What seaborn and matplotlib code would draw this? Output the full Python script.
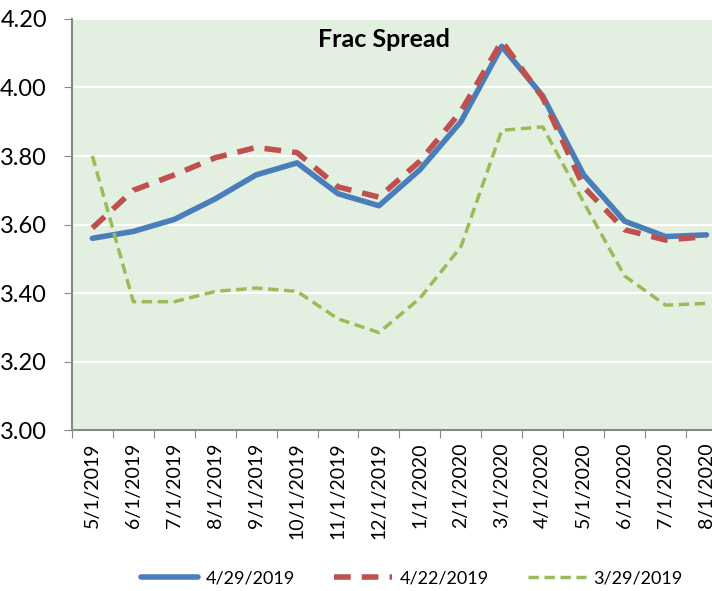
import pandas as pd
import matplotlib.pyplot as plt
import seaborn as sns

# contract months on the x axis
months = ['5/1/2019', '6/1/2019', '7/1/2019', '8/1/2019', '9/1/2019', '10/1/2019',
          '11/1/2019', '12/1/2019', '1/1/2020', '2/1/2020', '3/1/2020', '4/1/2020',
          '5/1/2020', '6/1/2020', '7/1/2020', '8/1/2020']

# forward curves, one per snapshot date
curve_0429 = [3.56, 3.58, 3.615, 3.675, 3.745, 3.78, 3.69, 3.655,
              3.76, 3.90, 4.12, 3.975, 3.745, 3.61, 3.565, 3.57]
curve_0422 = [3.59, 3.70, 3.745, 3.795, 3.825, 3.81, 3.71, 3.68,
              3.785, 3.93, 4.135, 3.97, 3.71, 3.585, 3.555, 3.565]
curve_0329 = [3.80, 3.375, 3.375, 3.405, 3.415, 3.405, 3.325, 3.285,
              3.385, 3.535, 3.875, 3.885, 3.665, 3.45, 3.365, 3.37]

series_names = ['4/29/2019', '4/22/2019', '3/29/2019']

df = pd.DataFrame({'month': months, 'pos': range(len(months)),
                   series_names[0]: curve_0429,
                   series_names[1]: curve_0422,
                   series_names[2]: curve_0329})
long_df = df.melt(id_vars=['month', 'pos'], var_name='curve', value_name='spread')

sns.set_style('white')
plt.rcParams['font.family'] = ['Lato', 'DejaVu Sans']
plt.rcParams['text.color'] = 'black'
plt.rcParams['xtick.color'] = 'black'
plt.rcParams['ytick.color'] = 'black'

fig = plt.figure(figsize=(7.12, 5.91), dpi=100)
ax = fig.add_axes([0.101, 0.272, 0.92, 0.696])
ax.set_facecolor('#e3f0e1')

palette = {'4/29/2019': '#4a7ebb', '4/22/2019': '#c0504d', '3/29/2019': '#9bbb59'}
styles = {'4/29/2019': ('-', 4.0), '4/22/2019': ((0, (3, 2)), 4.0), '3/29/2019': ((0, (3, 1.6)), 2.5)}

for name in series_names:
    sub = long_df[long_df['curve'] == name]
    ls, lw = styles[name]
    sns.lineplot(data=sub, x='pos', y='spread', ax=ax, color=palette[name],
                 linestyle=ls, linewidth=lw, label=name, legend=False)

ax.set_xlim(-0.5, 15.17)
ax.set_ylim(3.0, 4.2)
ax.set_yticks([3.0, 3.2, 3.4, 3.6, 3.8, 4.0, 4.2])
ax.set_yticklabels(['%.2f' % v for v in [3.0, 3.2, 3.4, 3.6, 3.8, 4.0, 4.2]], fontsize=17)
ax.yaxis.grid(True, color='white', linewidth=1.5)
ax.set_axisbelow(True)

# tick marks between categories, labels at category centres
ax.set_xticks([i - 0.5 for i in range(len(months) + 1)])
ax.set_xticklabels([])
ax.set_xticks(range(len(months)), minor=True)
ax.set_xticklabels(months, minor=True, rotation=90, fontsize=14)
ax.tick_params(axis='x', which='major', length=6, color='#888888', direction='out', bottom=True)
ax.tick_params(axis='x', which='minor', length=0, pad=9)
ax.tick_params(axis='y', length=6, color='#888888', direction='out', left=True, pad=12)

ax.set_xlabel('')
ax.set_ylabel('')
for side in ['top', 'right']:
    ax.spines[side].set_visible(False)
for side in ['left', 'bottom']:
    ax.spines[side].set_color('#888888')
    ax.spines[side].set_linewidth(1.5)

ax.text(0.476, 0.949, 'Frac Spread', transform=ax.transAxes, ha='center', va='center',
        fontsize=18, fontweight='bold')

handles = ax.get_lines()[:3]
fig.legend(handles, series_names, loc='center', bbox_to_anchor=(0.578, 1 - 578 / 591),
           ncol=3, frameon=False, fontsize=13, handlelength=3.2, columnspacing=2.2,
           handletextpad=0.4)

fig.savefig('out.png', dpi=100)
